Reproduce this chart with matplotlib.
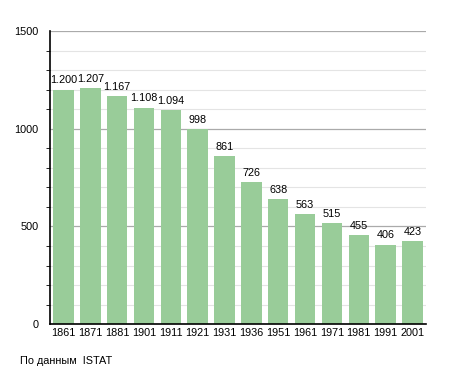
import numpy as np
import matplotlib.pyplot as plt
from matplotlib.ticker import MultipleLocator

plt.rcParams['font.family'] = ['Liberation Sans', 'DejaVu Sans']

years = ["1861", "1871", "1881", "1901", "1911", "1921", "1931",
         "1936", "1951", "1961", "1971", "1981", "1991", "2001"]
population = [1200, 1207, 1167, 1108, 1094, 998, 861,
              726, 638, 563, 515, 455, 406, 423]
labels = ["1.200", "1.207", "1.167", "1.108", "1.094", "998", "861",
          "726", "638", "563", "515", "455", "406", "423"]

fig = plt.figure(figsize=(4.55, 3.73), dpi=100)
ax = fig.add_axes([0.110, 0.131, 0.826, 0.786])

x = np.arange(len(years))
ax.bar(x, population, width=0.76, color="#99cc99", zorder=2)
for xi, v, s in zip(x, population, labels):
    ax.text(xi, v + 22, s, ha="center", va="bottom", fontsize=7.8, zorder=3)

ax.set_xlim(-0.5, len(years) - 0.5)
ax.set_ylim(0, 1500)
ax.set_xticks(x)
ax.set_xticklabels(years, fontsize=7.8)
ax.yaxis.set_major_locator(MultipleLocator(500))
ax.yaxis.set_minor_locator(MultipleLocator(100))
ax.tick_params(axis="y", which="major", labelsize=7.8, length=0, pad=8.5)
ax.tick_params(axis="y", which="minor", length=3, color="black")
ax.tick_params(axis="x", length=0, pad=3)
ax.grid(axis="y", which="major", color="#aaaaaa", lw=0.9, zorder=0)
ax.grid(axis="y", which="minor", color="#e4e4e4", lw=0.8, zorder=0)
for side in ["top", "right"]:
    ax.spines[side].set_visible(False)
ax.spines["left"].set_linewidth(1.2)
ax.spines["bottom"].set_linewidth(1.2)

fig.text(20 / 455, 1 - 361 / 373, "По данным  ISTAT", fontsize=7.8,
         ha="left", va="center")

fig.savefig("out.png", dpi=100)
